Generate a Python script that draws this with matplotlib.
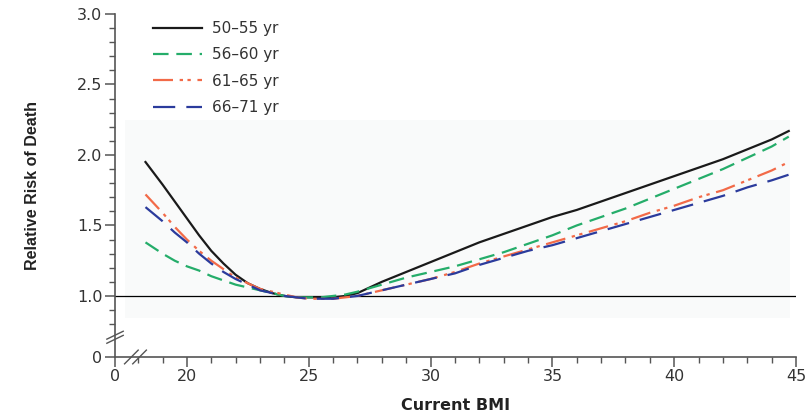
import matplotlib
matplotlib.use('Agg')
import matplotlib.pyplot as plt
from matplotlib.patches import Rectangle

# BMI grid
bmi = [18.3, 19.0, 19.5, 20.0, 20.5, 21.0, 21.5, 22.0, 22.5, 23.0, 23.5, 24.0,
       24.5, 25.0, 25.5, 26.0, 26.5, 27.0, 28.0, 29.0, 30.0, 31.0, 32.0, 33.0,
       34.0, 35.0, 36.0, 37.0, 38.0, 39.0, 40.0, 41.0, 42.0, 43.0, 44.0, 44.7]

rr_50_55 = [1.95, 1.79, 1.67, 1.55, 1.43, 1.32, 1.23, 1.15, 1.09, 1.05, 1.02, 1.00,
            0.99, 0.99, 0.99, 0.99, 1.00, 1.02, 1.10, 1.17, 1.24, 1.31, 1.38, 1.44,
            1.50, 1.56, 1.61, 1.67, 1.73, 1.79, 1.85, 1.91, 1.97, 2.04, 2.11, 2.17]
rr_56_60 = [1.38, 1.30, 1.25, 1.21, 1.18, 1.14, 1.11, 1.08, 1.06, 1.04, 1.02, 1.00,
            0.99, 0.99, 0.99, 1.00, 1.01, 1.03, 1.08, 1.13, 1.17, 1.21, 1.26, 1.31,
            1.37, 1.43, 1.50, 1.56, 1.62, 1.69, 1.76, 1.83, 1.90, 1.98, 2.06, 2.13]
rr_61_65 = [1.72, 1.59, 1.49, 1.40, 1.32, 1.25, 1.19, 1.13, 1.09, 1.05, 1.03, 1.01,
            0.99, 0.98, 0.98, 0.98, 0.99, 1.00, 1.04, 1.08, 1.12, 1.17, 1.23, 1.28,
            1.33, 1.38, 1.43, 1.48, 1.53, 1.59, 1.64, 1.70, 1.75, 1.82, 1.89, 1.95]
rr_66_71 = [1.63, 1.53, 1.45, 1.38, 1.30, 1.23, 1.17, 1.12, 1.08, 1.04, 1.02, 1.00,
            0.99, 0.98, 0.98, 0.98, 0.99, 1.00, 1.04, 1.08, 1.12, 1.16, 1.22, 1.27,
            1.32, 1.36, 1.41, 1.46, 1.51, 1.56, 1.61, 1.66, 1.71, 1.77, 1.82, 1.86]

labels = ['50\u201355 yr', '56\u201360 yr', '61\u201365 yr', '66\u201371 yr']

x_ticks = [20, 25, 30, 35, 40, 45]
y_ticks = [1.0, 1.5, 2.0, 2.5, 3.0]

# broken axes: the "0" sits where the scale is cut
x_zero = 17.05
y_zero = 0.567

fig = plt.figure(figsize=(8.09, 4.18), dpi=100)
ax = fig.add_axes([0.1422, 0.146, 0.8418, 0.8205])

ax.add_patch(Rectangle((17.45, 0.84), 27.3, 1.41, color='#f9fafa', zorder=0, lw=0))

ax.axhline(1.0, color='black', lw=0.9, zorder=1)

ax.plot(bmi, rr_50_55, color='#1a1a1a', lw=1.6, label=labels[0])
ax.plot(bmi, rr_56_60, color='#25ad6a', lw=1.6, dashes=(7, 3.5), label=labels[1])
ax.plot(bmi, rr_61_65, color='#f26a48', lw=1.6, dashes=(9, 3, 1.5, 2, 1.5, 3),
        label=labels[2])
ax.plot(bmi, rr_66_71, color='#2b3b9c', lw=1.6, dashes=(10, 5), label=labels[3])

ax.set_xlim(x_zero, 45)
ax.set_ylim(y_zero, 3.0)

for s in ['top', 'right']:
    ax.spines[s].set_visible(False)
for s in ['left', 'bottom']:
    ax.spines[s].set_color('#555555')
    ax.spines[s].set_linewidth(1.2)

ax.set_xticks([x_zero] + x_ticks)
ax.set_xticklabels(['0'] + [str(t) for t in x_ticks])
ax.set_xticks(list(range(18, 45)), minor=True)
ax.set_yticks([y_zero] + y_ticks)
ax.set_yticklabels(['0'] + ['%.1f' % t for t in y_ticks])
ax.set_yticks([v / 10 for v in range(8, 30)], minor=True)

ax.tick_params(which='major', length=7, width=1.1, color='#555555',
               labelsize=11.5, labelcolor='#333333', pad=2)
ax.tick_params(which='minor', length=4, width=1.0, color='#555555')

ax.set_xlabel('Current BMI', fontsize=11.5, fontweight='bold', color='#222222',
              labelpad=10)
ax.set_ylabel('Relative Risk of Death', fontsize=11.5, fontweight='bold',
              color='#222222', labelpad=27,
              family=['Liberation Sans Narrow', 'Liberation Sans', 'DejaVu Sans'])

# break marks on both axes
kw = dict(transform=ax.transAxes, color='#555555', lw=1.0, clip_on=False)
for dy in (-0.012, 0.0):
    ax.plot([-0.012, 0.012], [0.052 + dy, 0.075 + dy], **kw)
for dx in (-0.006, 0.006):
    ax.plot([0.02 + dx, 0.04 + dx], [-0.02, 0.02], **kw)

ax.legend(loc='upper left', bbox_to_anchor=(0.035, 1.02), frameon=False,
          fontsize=11, handlelength=3.2, handletextpad=0.7, labelspacing=0.75,
          labelcolor='#333333')

fig.savefig('out.png', dpi=100)
